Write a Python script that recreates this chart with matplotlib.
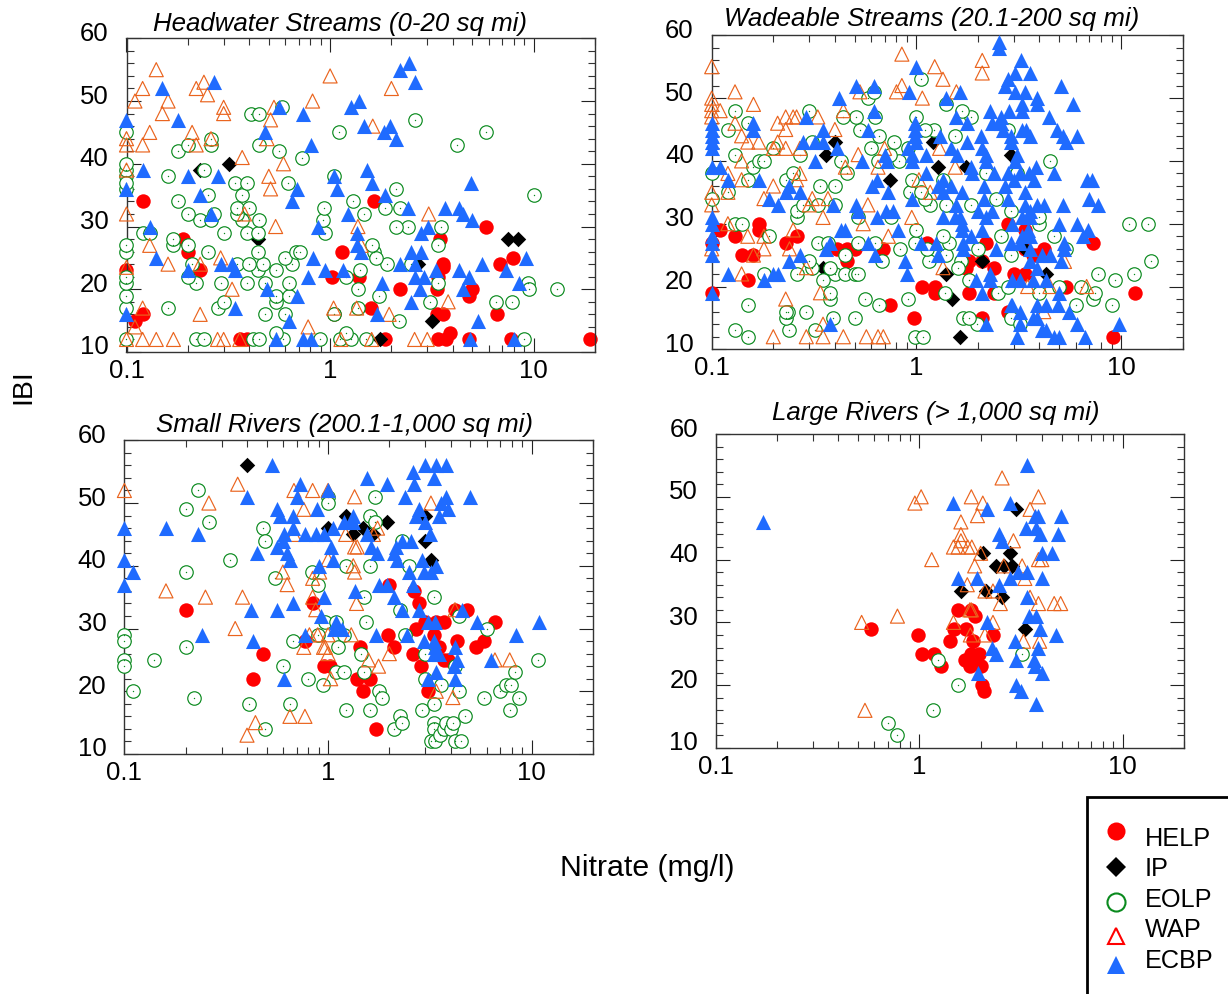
import matplotlib
matplotlib.use('Agg')
import matplotlib.pyplot as plt
import matplotlib.transforms as mtransforms
from matplotlib.lines import Line2D
from matplotlib.patches import Rectangle
from matplotlib.ticker import LogLocator, MultipleLocator, NullFormatter, FixedLocator, FixedFormatter
import numpy as np

plt.rcParams['font.family'] = ['Liberation Sans', 'DejaVu Sans']

# (nitrate, IBI) pairs, one list per panel and site group
hw_help = [(.1,23),(.11,15),(.12,16),(.12,34),(.19,28),(.2,26),(.23,23),(.36,12),(.39,12),(1.02,22),(1.14,26),(1.05,16),
           (1.39,22),(1.59,17),(1.64,34),(1.86,12),(2.2,20),(3.34,16),(3.6,16),(3.34,20),(3.4,22),(3.46,28),(3.6,24),(3.6,23.5),
           (3.38,12),(3.7,12),(3.9,13),(4.83,19),(5,20),(4.83,12),(5.8,30),(6.6,16),(6.8,24),(7.9,25),(7.7,12),(18.8,12)]
hw_ip = [(.23,39),(.32,40),(.44,28),(1.75,12),(2.7,24),(3.15,15),(7.5,28),(8.4,28)]
hw_eolp = [(.1,12),(.22,12),(.24,12),(.42,12),(.45,12),(.59,12),(.89,12),(1.12,12),(1.26,12),(1.5,12),(9,12),(1.2,13),(.54,13),
           (2.17,15),(.1,17),(.16,17),(.28,17),(.48,16),(.6,16),(1.05,16),(1.37,17),(.3,18),(.54,18),(3.1,18),(6.5,18),(7.8,18),
           (.1,19),(.54,19),(.63,19),(1.74,19),(.1,21),(.29,21),(.39,21),(.48,21),(.63,21),(.22,21),(.2,22),(3.4,21),(9.4,21),
           (9.5,20),(13,20),(.1,22),(.44,23),(1.2,22),(1.4,23),(1.37,20),(.21,24),(.35,24),(.4,24),(.47,24),(.65,24),(.54,23),
           (.6,25),(1.9,24),(2.5,24),(.25,26),(.44,26),(.68,26),(.71,26),(1.65,26),(1.68,25),(1.6,27),(3.37,27),(.17,27),(.2,27),
           (.1,26),(.1,27),(.12,29),(.13,29),(.17,28),(.3,29),(.39,29),(.44,29),(.94,29),(2.4,30),(2.1,30),(3.5,30),(.23,31),(.26,31),
           (.45,31),(.92,31),(.37,31),(.2,32),(.27,32),(.35,32),(1.47,32),(1.85,33),(2.2,33),(.35,33),(.4,33),(.93,33),(.18,34),
           (1.3,34),(.37,35),(.25,35),(2.1,36),(10,35),(.34,37),(.39,37),(.62,37),(1.05,38),(.16,38),(.1,38),(.1,39),(.24,39),
           (.1,36),(.1,37),(.1,40),(.73,41),(.18,42),(.56,42),(.2,43),(.26,43),(.45,43),(4.2,43),(.1,45),(.26,44),(1.1,45),(5.8,45),
           (2.6,47),(.41,48),(.45,48),(.58,49)]
hw_wap = [(.1,12),(.12,12),(.14,12),(.17,12),(.28,12),(.3,12),(.36,12),(1.13,12),(1.6,12),(2.6,12),(3,12),(.78,14),(.11,14),
          (.12,17),(.23,16),(1.04,17),(1.35,17),(1.95,16),(3.8,18),(.33,20),(.1,23.5),(.16,24),(.23,24),(.29,25),(.13,27),(.54,30),
          (1.37,30),(1.42,27),(.38,32),(.1,32),(3.05,32),(.51,36),(.5,38),(.59,40),(.37,41),(.1,43),(.1,44),(.12,43),(.13,45),
          (.21,45),(.22,43),(.26,44),(.49,44),(1.62,46),(.15,48),(.16,50),(.11,50),(.3,49),(.3,48),(.51,47),(.53,49),(.82,50),
          (.12,52),(.22,52),(.25,51),(.24,53),(.14,55),(1,54),(2,52),(.1,39)]
hw_ecbp = [(.1,16),(.1,36),(.1,47),(.12,39),(.13,30),(.14,25),(.15,52),(.18,47),(.2,38),(.2,23),(.23,35),(.26,32),(.27,53),(.28,38),
           (.29,24),(.33,24),(.34,23),(.34,17),(.49,20),(.48,45),(.54,12),(.56,49),(.63,15),(.65,34),(.69,36),(.69,19),(.74,48),
           (.74,12),(.81,12),(.81,43),(.82,25),(.78,22),(.87,30),(.94,23),(1.05,38),(1.08,36),(1.16,23),(1.22,32),(1.26,49),(1.38,50),
           (1.47,46),(1.36,29),(1.36,27),(1.42,26),(1.51,39),(1.6,37),(1.7,16),(1.8,21),(1.83,45),(1.87,35),(1.97,46),(2.1,44),
           (2.2,55),(2.45,56),(2.6,53),(2.2,24),(2.4,33),(2.5,18),(2.5,26),(2.6,24),(2.6,22),(2.75,20),(2.8,29),(2.9,22),(2.8,26),
           (3.03,30),(3.3,23),(3.65,33),(4.3,23),(4.3,33),(4.5,32),(4.5,20),(4.8,22),(4.9,37),(5,31),(4.85,12),(5.3,15),(5.6,24),
           (7.3,23),(8,12),(8.5,21),(9.2,25)]

ws_help = [(.1,19),(.1,27),(.11,29),(.13,28),(.14,25),(.16,25),(.15,21),(.17,30),(.17,29),(.23,27),(.26,28),(.41,26),(.46,26),(.5,26),
           (.46,24),(.69,26),(.74,17),(.97,15),(1.07,20),(1.23,20),(1.23,19),(1.13,27),(1.8,24),(1.75,23),(1.8,19),(2.1,15),(2.2,27),
           (2.4,23),(2.1,24),(2.4,19),(2.8,16),(2.8,30),(3,22),(3.4,29),(3.4,22),(3.4,26),(3.7,25),(4.2,26),(3.9,25),(5.4,20),(7.3,27),
           (9.2,12),(11.7,19)]
ws_ip = [(.36,41),(.4,43),(.35,23),(.74,37),(1.2,43),(1.27,39),(1.75,39),(1.4,22),(1.5,18),(1.63,12),(2.1,24),(2.9,41),(3.4,26),(4.3,22)]
ws_eolp = [(.98,12),(1.08,12),(.15,12),(.13,13),(.24,13),(.32,13),(1.98,14),(.23,15),(.235,16),(.29,16),(.39,15),(.5,15),(1.7,15),
           (1.8,15),(2.9,15),(3.2,14),(.23,16),(.15,17),(.56,18),(.66,17),(.91,18),(.38,18),(.38,19),(1.38,19),(2.5,19),(4,19),(6,17),
           (7.3,18),(7.5,19),(9,17),(1.8,21),(2.8,20),(5,20),(6.4,20),(9.4,21),(11.6,22),(7.7,22),(14,24),(.18,22),(.26,22),(.35,21),
           (.4,22),(.45,22),(.5,22),(.52,22),(.38,23),(.31,23),(.3,24),(.45,25),(.68,24),(1.15,24),(1.4,25),(2.9,25),(1.65,24),(1.6,23),
           (.83,26),(1.13,26),(2,26),(5.4,26),(4.7,28),(2.6,28),(.33,27),(.37,27),(.52,27),(.63,27),(.98,27),(1.45,27),(1.35,28),(.19,28),
           (1,29),(.13,30),(.14,30),(.26,31),(.26,32),(.52,31),(.75,31),(2.9,32),(4,30),(4,31),(11,30),(13.5,30),(.28,33),(.33,33),(.4,33),(1.17,33),
           (1.4,33),(1.85,33),(2.45,34),(1.1,34),(.12,35),(.1,34),(.93,35),(1.05,35),(.34,36),(.4,36),(.95,37),(1.35,37),(.23,37),(.15,37),
           (.25,38),(.1,38),(.16,39),(.17,40),(.18,40),(.43,40),(.46,38),(.82,40),(2.2,38),(3.1,38),(4.5,40),(.6,42),(.65,40),(.74,41),
           (.91,42),(.13,41),(.2,42),(.27,41),(.78,43),(.31,43),(.66,44),(1.55,44),(.12,45),(.53,45),(.15,46),(.51,47),(.63,47),(1,47),
           (.44,47),(1.22,45),(1.1,45),(1.85,47),(1.68,48),(.13,48),(.3,48),(2.8,45),(1.4,49),(.58,50),(.62,51),(1.05,53)]
ws_wap = [(.2,12),(.29,12),(.35,12),(.44,12),(.57,12),(.65,12),(.69,12),(.35,14),(.23,18),(.34,19),(.14,22),(.29,23),(1.35,23),(3.5,20),
          (4.5,20),(6.8,20),(4.2,16),(5.3,24),(.1,26),(.16,25),(.18,26),(.24,26),(.15,28),(.18,28),(.25,29),(.55,30),(.35,31),(.95,31),
          (.73,28),(.12,30),(.58,33),(.18,34),(.31,34),(.3,33),(.37,34),(.1,33),(.1,35),(.12,35),(.2,36),(1.17,35),(1.03,37),(.14,37),
          (.12,38),(.27,38),(.26,37),(.45,39),(1.55,39),(.14,40),(.52,41),(.65,39),(.7,42),(1.3,42),(.23,42),(.2,42),(.27,42),(.15,43),
          (.17,43),(.21,43),(.14,44),(.4,45),(.21,46),(.23,45),(.23,47),(.25,47),(.26,47),(.33,47),(.13,46),(.11,48),(.1,48),(.1,47),
          (.1,50),(.1,49),(.1,55),(.13,51),(.16,49),(.44,48),(.53,51),(.8,51),(.85,52),(1.07,50),(1.35,53),(1.57,51),(1.23,55),(2.1,56),
          (2.1,54),(.85,57)]
ws_ecbp = [(.1,19),(.1,25),(.1,27),(.1,28),(.1,30),(.1,31),(.1,39),(.1,42),(.1,43),(.1,44),(.1,45),(.1,46),(.11,39),(.12,37),(.12,22),
           (.16,46),(.16,45),(.17,37),(.18,21),(.2,22),(.21,22),(.19,34),(.21,33),(.24,36),(.23,35),(.24,24),(.27,25),(.27,35),(.28,43),
           (.29,47),(.32,43),(.32,40),(.35,45),(.35,43),(.36,26),(.38,27),(.38,14),(.39,33),(.41,42),(.42,50),(.43,29),(.45,29),(.51,52),
           (.51,33),(.52,32),(.54,40),(.58,45),(.58,27),(.62,52),(.62,48),(.61,36),(.64,31),(.63,25),(.64,37),(.7,41),(.72,40),(.73,35),
           (.71,32),(.77,32),(.81,29),(.88,24),(.9,22),(.92,51),(.95,34),(.91,42),(.95,41),(.95,40),(.98,46),(.98,45),(.98,44),(1,43),
           (1,55),(1.05,27),(1.11,41),(1.11,38),(1.28,36),(1.25,27),(1.28,25),(1.3,44),(1.35,37),(1.35,35),(1.35,31),(1.4,50),(1.48,42),
           (1.48,36),(1.57,47),(1.64,51),(1.58,41),(1.57,33),(1.55,31),(1.64,31),(1.67,30),(1.67,35),(1.67,29),(1.7,27),(1.7,26),(1.77,46),
           (1.77,43),(1.85,39),(1.87,38),(1.85,28),(1.95,21),(2,32),(2.07,44),(2.1,42),(2.1,29),(2.2,41),(2.15,36),(2.15,34),(2.2,40),
           (2.2,31),(2.1,19),(2.2,14),(2.3,48),(2.35,46),(2.3,22),(2.3,21),(2.35,32),(2.45,26),(2.4,38),(2.6,46),(2.8,34),(2.7,36),(2.8,38),
           (2.7,52),(2.8,53),(2.55,59),(2.55,58),(2.65,45),(2.6,47),(2.85,48),(2.9,44),(2.9,43),(2.95,17),(3.05,54),(3.05,51),(3.25,56),
           (3.1,41),(3.05,40),(3.2,38),(3,37),(3.4,35),(3.3,49),(3.3,48),(3.4,51),(3.3,45),(3.45,45),(3.6,54),(3.6,44),(3.55,38),(3.75,37),
           (3.85,39),(3.9,50),(3.9,49),(3.4,33),(3.6,32),(3.9,33),(4.2,33),(2.95,30),(3.3,31),(3.6,31),(3.5,29),(3.3,28),(3.6,28),(2.9,27),
           (3.2,27),(3.6,26),(3.6,24),(3.9,23),(4.5,25),(4.1,25),(4.45,47),(4.85,45),(5.1,52),(5.2,44),(5.4,43),(5.8,49),(4.7,38),(5.2,33),
           (5,30),(5.3,27),(5.1,24),(5,19),(4.9,17),(5.6,16),(6.1,44),(6.1,30),(6.5,28),(6.9,29),(6.8,37),(7.2,37),(7,34),(7.7,33),(6.1,14),
           (9.8,14),(6.7,12),(4.7,12),(5,12),(3.1,12),(3.2,14),(3.7,15),(3.9,17),(4.3,17),(3.9,15),(4.1,13),(4.3,13),(2.9,17),(3.2,16),
           (2.95,21),(3.2,21),(3.7,21),(4.3,21),(5.3,26)]

sr_help = [(.2,33),(.43,22),(.48,26),(.77,28),(.84,34),(.96,24),(1.02,24),(1.44,27),(1.38,22),(1.6,22),(1.49,20),(1.72,14),(1.97,29),
           (2.1,27),(2,37),(2.65,36),(2.8,34),(2.7,30),(2.6,26),(2.85,24),(3,31),(3.3,29),(3.5,27),(3.7,31),(3.4,31),(3.7,25),(3.9,25),
           (4.3,28),(3.1,20),(4.2,33),(4.8,33),(5.3,27),(5.8,28),(6.6,31)]
sr_ip = [(.4,56),(1.22,48),(1.33,45),(1,46),(1.48,46),(1.67,45),(1.95,47),(3,48),(3,44),(3.2,41)]
sr_eolp = [(.1,29),(.1,28),(.1,25),(.1,24),(.11,20),(.14,25),(.2,27),(.22,19),(.2,39),(.2,49),(.23,52),(.26,47),(.33,41),(.41,18),(.49,14),
           (.55,38),(.48,46),(.49,44),(.6,24),(.65,18),(.67,28),(.8,22),(.83,39),(.89,37),(.89,29),(.94,21),(.97,31),(1,51),(1,50),(1.1,31),
           (1.12,27),(1.1,23),(1.2,23),(1.22,40),(1.22,17),(1.2,29),(1.45,26),(1.5,23),(1.5,35),(1.54,31),(1.6,40),(1.6,17),(1.6,48),(1.7,51),
           (1.7,47),(1.78,20),(1.85,19),(2.1,14),(2.25,16),(2.3,15),(2.25,33),(2.3,44),(2.4,29),(2.5,40),(2.9,17),(3,26),(3,22),(3.3,35),
           (3.3,18),(3.6,21),(3.3,15),(3.3,14),(3.2,12),(3.35,12),(3.55,13),(3.7,14),(3.8,15),(4,14),(4.1,15),(4.2,12),(4.5,12),(4.7,16),
           (4.4,20),(4.4,32),(4.2,24),(5.8,19),(6,30),(7,20),(7.5,21),(7.9,21),(7.8,17),(8.3,23),(8.7,19),(10.7,25)]
sr_wap = [(.1,52),(.16,36),(.25,35),(.26,50),(.36,53),(.38,35),(.35,30),(.4,13),(.44,15),(.65,16),(.77,16),(.6,39),(.63,37),(.68,52),
          (.68,45),(.76,49),(.84,52),(1,52),(.84,38),(.91,39),(.84,35),(.87,33),(.81,29),(.89,29),(.76,27),(.95,27),(1,29),(1,26),(.97,27),
          (1.03,22),(1,41),(1.22,45),(1.35,51),(1.33,40),(1.35,39),(1.35,43),(1.39,43),(1.38,34),(1.3,29),(1.58,25),(1.77,24),(1.67,45),
          (1.75,46),(2,26),(3.4,20),(4.1,19),(3.2,50),(4.2,33),(6.6,25),(7.8,25)]
sr_ecbp = [(.1,46),(.1,41),(.11,39),(.1,37),(.16,46),(.23,45),(.24,29),(.4,51),(.42,33),(.43,28),(.45,42),(.53,56),(.56,33),(.61,22),
           (.56,49),(.58,48),(.67,48),(.67,46),(.61,45),(.6,44),(.56,43),(.63,42),(.65,41),(.67,34),(.73,53),(.7,51),(.77,45),(.77,29),
           (.87,45),(.95,45),(.88,49),(.9,40),(.95,35),(.92,32),(1,52),(1.03,43),(1.06,41),(1.06,46),(1.1,31),(1.07,30),(1.17,30),(1.2,47),
           (1.32,48),(1.32,47),(1.35,36),(1.55,54),(1.55,45),(1.62,43),(1.74,42),(1.72,29),(1.77,37),(1.95,53),(1.95,37),(2.1,35),(2.15,43),
           (2.1,42),(2.17,41),(2.3,44),(2.3,33),(2.45,29),(2.55,44),(2.4,51),(2.65,53),(2.6,55),(2.5,39),(2.6,37),(2.7,48),(2.8,49),(2.8,33),
           (2.9,41),(2.95,28),(3,47),(3,56),(3.4,56),(3.8,56),(3.3,54),(3.15,45),(2.95,39),(3.2,39),(3.4,40),(3.1,22),(3.1,31),(3.35,31),
           (3.3,28),(3.35,27),(3.3,26),(3.5,26),(3.4,23),(3.5,48),(3.6,50),(3.8,51),(3.9,49),(4.2,27),(4.2,22),(4.15,24),(4.3,25),(4.55,33),
           (5,51),(5.4,31),(6.3,25),(8.4,29),(10.8,31)]

lr_help = [(.58,29),(.99,28),(1.03,25),(1.18,25),(1.28,23),(1.42,27),(1.48,29),(1.54,32),(1.7,29),(1.8,32),(1.87,31),(1.84,27),(1.67,24),
           (1.8,25),(1.97,25),(1.77,23),(1.83,24),(2,23),(2.03,20),(2.08,19),(2.3,28)]
lr_ip = [(1.6,35),(2.05,41),(2.13,35),(2.37,39),(2.6,39),(2.85,39),(2.8,41),(2.55,34),(3,48),(3.3,29)]
lr_eolp = [(.7,14),(.78,12),(1.17,16),(1.24,24),(1.55,20),(3.2,25)]
lr_wap = [(.54,16),(.52,30),(.78,31),(.95,49),(1.02,50),(1.15,40),(2.55,53),(1.8,50),(2.05,49),(1.93,47),(1.6,46),(1.6,44),(1.6,43),(1.47,42),
          (1.55,42),(1.73,42),(1.81,42),(2,41),(1.87,39),(1.72,36),(2.1,35),(2.3,35),(2.5,33),(1.77,32),(1.8,32),(1.47,30),(1.78,28),(2.1,28),
          (2.3,30),(2.9,43),(3.5,48),(3.85,50),(3.85,40),(4,40),(3.2,39),(3.3,37),(3.5,34),(3.85,33),(4.6,33),(4.95,33),(3.25,27),(3.9,27),(2.6,39)]
lr_ecbp = [(.17,46),(1.47,49),(1.55,37),(1.92,37),(2.15,48),(2.15,30),(2.45,44),(2.55,43),(2.45,36),(2.28,26),(2.37,25),(1.95,22),(2.8,49),
           (2.8,37),(3.05,38),(3.4,38),(2.95,27),(3,24),(3,20),(3.15,19),(3.37,55),(3.35,45),(3.4,34),(3.45,31),(3.75,31),(3.7,47),(3.85,47),
           (3.75,45),(3.9,44),(4,41),(4.5,41),(4,37),(3.9,29),(3.85,26),(3.65,24),(3.7,23),(4,22),(3.75,17),(4.8,44),(4.95,47),(4.7,28)]

panels = [
    ('Headwater Streams (0-20 sq mi)', hw_help, hw_ip, hw_eolp, hw_wap, hw_ecbp),
    ('Wadeable Streams (20.1-200 sq mi)', ws_help, ws_ip, ws_eolp, ws_wap, ws_ecbp),
    ('Small Rivers (200.1-1,000 sq mi)', sr_help, sr_ip, sr_eolp, sr_wap, sr_ecbp),
    ('Large Rivers (> 1,000 sq mi)', lr_help, lr_ip, lr_eolp, lr_wap, lr_ecbp),
]
x_ticks = [0.1, 1, 10]
x_labels = ['0.1', '1', '10']
y_ticks = [10, 20, 30, 40, 50, 60]
key_labels = ['HELP', 'IP', 'EOLP', 'WAP', 'ECBP']

W, H = 1228, 994
# axes boxes in pixels: left, top, right, bottom
boxes = [(126.5, 38.3, 595, 352), (711.7, 35.3, 1182.5, 349.3), (124.4, 440.3, 593, 754), (716, 434, 1184, 748)]
title_centres = [(340, 24), (932, 19), (344, 425), (936, 413)]

RED = '#ff0000'
GREEN = '#0a8a1e'
ORANGE = '#ea641e'
BLUE = '#1f6bff'

fig = plt.figure(figsize=(W / 100, H / 100), dpi=100)

for (title, help_, ip, eolp, wap, ecbp), (l, t, r, b), (tx, ty) in zip(panels, boxes, title_centres):
    ax = fig.add_axes([l / W, 1 - b / H, (r - l) / W, (b - t) / H])
    ax.set_xscale('log')
    ax.set_xlim(0.1, 20)
    ax.set_ylim(10, 60)

    ax.scatter(*np.array(help_).T, s=108, marker='o', color=RED, linewidths=0, clip_on=False, zorder=2)
    ax.scatter(*np.array(ip).T, s=62, marker='D', color='black', linewidths=0, clip_on=False, zorder=3)
    ex, ey = np.array(eolp).T
    ax.scatter(ex, ey, s=94, marker='o', facecolors='white', edgecolors=GREEN, linewidths=0.85, clip_on=False, zorder=4)
    ax.scatter(ex, ey, s=1, marker='o', color=GREEN, linewidths=0, clip_on=False, zorder=4)
    ax.scatter(*np.array(wap).T, s=102, marker='^', facecolors='none', edgecolors=ORANGE, linewidths=0.85, clip_on=False, zorder=5)
    ax.scatter(*np.array(ecbp).T, s=118, marker='^', color=BLUE, linewidths=0, clip_on=False, zorder=6)

    ax.xaxis.set_major_locator(FixedLocator(x_ticks))
    ax.xaxis.set_major_formatter(FixedFormatter(x_labels))
    ax.xaxis.set_minor_locator(LogLocator(base=10, subs=range(2, 10), numticks=12))
    ax.xaxis.set_minor_formatter(NullFormatter())
    ax.set_yticks(y_ticks)
    ax.yaxis.set_minor_locator(MultipleLocator(2))
    ax.tick_params(which='major', direction='in', top=True, right=True, length=10, width=0.8, color='#222222')
    ax.tick_params(which='minor', direction='in', top=True, right=True, length=5, width=0.8, color='#333333')
    ax.tick_params(axis='x', which='major', labelsize=18.5, pad=5)
    ax.tick_params(axis='y', which='major', labelsize=18.5, pad=13)
    for spine in ax.spines.values():
        spine.set_linewidth(1.0)
        spine.set_color('#333333')

    # the y labels sit a little above their ticks in the source figure
    shift = mtransforms.ScaledTranslation(0, 7 / 100, fig.dpi_scale_trans)
    for label in ax.get_yticklabels():
        label.set_transform(label.get_transform() + shift)

    fig.text(tx / W, 1 - ty / H, title, fontsize=18.6, style='italic', ha='center', va='center')

fig.text(23 / W, 1 - 387 / H, 'IBI', fontsize=20.5, rotation=90, ha='center', va='center')
fig.text(647 / W, 1 - 868 / H, 'Nitrate (mg/l)', fontsize=21.8, ha='center', va='center')

# key box runs off the right and bottom edge of the picture
fig.add_artist(Rectangle((1087 / W, -0.05), 0.2, 1 - 797 / H + 0.05, transform=fig.transFigure,
                         facecolor='white', edgecolor='black', linewidth=2, zorder=5))
key_handles = [
    dict(marker='o', markersize=13, color=RED, markeredgewidth=0),
    dict(marker='D', markersize=10, color='black', markeredgewidth=0),
    dict(marker='o', markersize=13, markerfacecolor='white', markeredgecolor=GREEN, markeredgewidth=1.5),
    dict(marker='^', markersize=11, markerfacecolor='white', markeredgecolor=RED, markeredgewidth=1.5),
    dict(marker='^', markersize=13.5, color=BLUE, markeredgewidth=0),
]
key_marker_y = [831, 867, 902, 936, 965]
key_text_y = [839, 869, 900, 930, 961]
for label, style, my, ty in zip(key_labels, key_handles, key_marker_y, key_text_y):
    fig.add_artist(Line2D([1116 / W], [1 - my / H], linestyle='none', transform=fig.transFigure, zorder=6, **style))
    fig.text(1145 / W, 1 - ty / H, label, fontsize=18.2, ha='left', va='center', zorder=6)

fig.savefig('out.png', dpi=100)
